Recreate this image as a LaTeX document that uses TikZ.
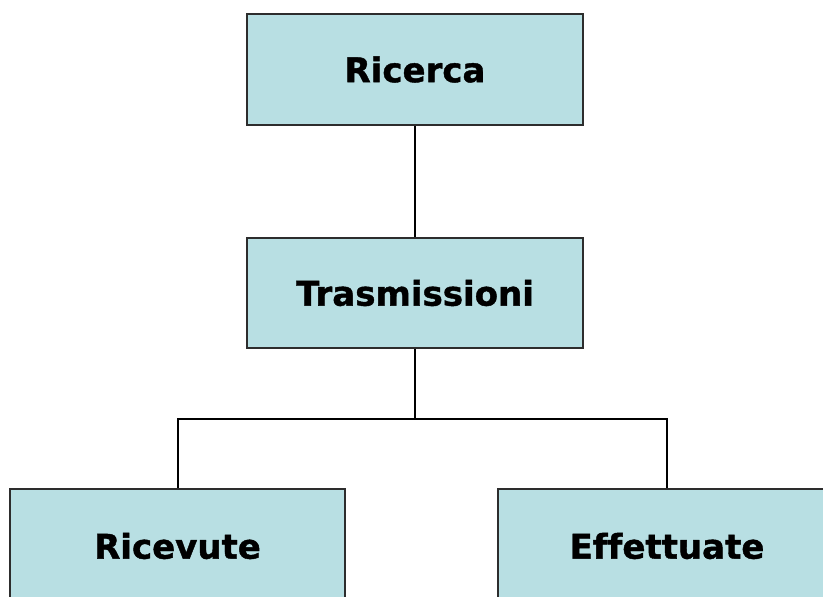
\documentclass[tikz,border=0pt]{standalone}
\usepackage{fontspec}
\setmainfont[Ligatures=NoCommon, BoldFeatures={FakeBold=1.2}]{DejaVu Sans}
\definecolor{boxfill}{RGB}{184,223,227}
\definecolor{boxline}{RGB}{45,45,45}
\begin{document}
\begin{tikzpicture}[x=1pt,y=-1pt,
  orgbox/.style={draw=boxline, line width=2pt, fill=boxfill, rectangle,
    inner sep=0pt, font=\fontsize{34}{40}\selectfont\bfseries},
  link/.style={draw=black, line width=2pt}]
\useasboundingbox (0,0) rectangle (823,597);
\clip (0,0) rectangle (823,597);
\fill[white] (0,0) rectangle (823,597);
\node[orgbox, minimum width=336pt, minimum height=111pt] (ric) at (415,69.5) {Ricerca};
\node[orgbox, minimum width=336pt, minimum height=110pt] (tra) at (415,293) {Trasmissioni};
\node[orgbox, minimum width=335pt, minimum height=114pt] (rv) at (177.5,546) {Ricevute};
\node[orgbox, minimum width=338pt, minimum height=114pt] (ef) at (667,546) {Effettuate};
\coordinate (j) at (415,419);
\draw[link] (ric.south) -- (tra.north);
\draw[link] (tra.south) -- (j);
\draw[link] (rv.north) |- (j) -| (ef.north);
\end{tikzpicture}
\end{document}
